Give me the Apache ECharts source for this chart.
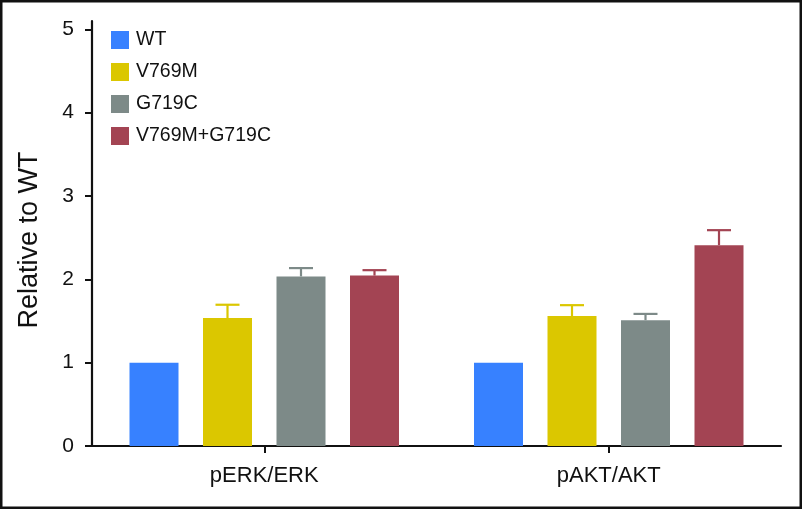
<!DOCTYPE html>
<html>
<head>
<meta charset="utf-8">
<script src="https://cdn.jsdelivr.net/npm/echarts@6/dist/echarts.min.js"></script>
<style>
  html, body { margin: 0; padding: 0; background: #fff; }
  #chart { width: 802px; height: 509px; }
</style>
</head>
<body>
<div id="chart"></div>
<script>
// ---- data ----
var categories = ['pERK/ERK', 'pAKT/AKT'];
var seriesNames = ['WT', 'V769M', 'G719C', 'V769M+G719C'];
var wtValues = [1.0, 1.0];
var wtErrors = [0, 0];
var v769mValues = [1.535, 1.56];
var v769mErrors = [0.16, 0.13];
var g719cValues = [2.035, 1.51];
var g719cErrors = [0.10, 0.075];
var comboValues = [2.045, 2.41];
var comboErrors = [0.065, 0.18];
var yTickValues = [0, 1, 2, 3, 4, 5];

var colors = ['#3781FF', '#DBC700', '#7D8A88', '#A34453'];
var FONT = 'Liberation Sans, Arial, Helvetica, sans-serif';
var BAR_W = 49;
var BAR_GAP_PX = 24.5;

var allValues = [wtValues, v769mValues, g719cValues, comboValues];
var allErrors = [wtErrors, v769mErrors, g719cErrors, comboErrors];

var series = [];
seriesNames.forEach(function (name, i) {
  series.push({
    name: name,
    type: 'bar',
    data: allValues[i],
    barWidth: BAR_W,
    barGap: '50%',
    itemStyle: { color: colors[i] },
    silent: true
  });
});
seriesNames.forEach(function (name, i) {
  var data = allValues[i].map(function (v, k) { return [k, v, allErrors[i][k]]; });
  series.push({
    name: name,
    type: 'custom',
    data: data,
    z: 1,
    silent: true,
    renderItem: function (params, api) {
      var err = api.value(2);
      if (!err) return null;
      var cat = api.value(0);
      var val = api.value(1);
      var offset = (i - 1.5) * (BAR_W + BAR_GAP_PX);
      var pTop = api.coord([cat, val + err]);
      var pBase = api.coord([cat, val]);
      var x = pTop[0] + offset;
      var half = 12;
      var style = { stroke: colors[i], lineWidth: 2.2, fill: null };
      return {
        type: 'group',
        children: [
          { type: 'line', shape: { x1: x, y1: pBase[1], x2: x, y2: pTop[1] }, style: style },
          { type: 'line', shape: { x1: x - half, y1: pTop[1], x2: x + half, y2: pTop[1] }, style: style }
        ]
      };
    }
  });
});

var chart = echarts.init(document.getElementById('chart'), null, { renderer: 'canvas' });
chart.setOption({
  animation: false,
  backgroundColor: '#fff',
  textStyle: { fontFamily: FONT },
  grid: { left: 92, right: 21, top: 21, bottom: 63, containLabel: false },
  legend: {
    data: seriesNames,
    orient: 'vertical',
    left: 111,
    top: 30,
    padding: 0,
    icon: 'rect',
    itemWidth: 18,
    itemHeight: 18,
    itemGap: 12,
    selectedMode: false,
    textStyle: { fontSize: 19.5, color: '#111', fontFamily: FONT, padding: [0, 0, 0, 2] }
  },
  xAxis: {
    type: 'category',
    data: categories,
    axisLine: { lineStyle: { color: '#111', width: 2.2 } },
    axisTick: { show: true, alignWithLabel: true, length: 7, lineStyle: { color: '#111', width: 2 } },
    axisLabel: { fontSize: 22, color: '#111', margin: 19, fontFamily: FONT },
    splitLine: { show: false }
  },
  yAxis: {
    type: 'value',
    min: 0,
    max: 5.1,
    name: 'Relative to WT',
    nameLocation: 'middle',
    nameGap: 49,
    nameRotate: 90,
    nameTextStyle: { fontSize: 27, color: '#111', fontFamily: FONT, padding: [0, 13, 0, 0] },
    axisLine: { show: true, lineStyle: { color: '#111', width: 2.2 } },
    axisTick: { show: true, length: 7, lineStyle: { color: '#111', width: 2 }, customValues: yTickValues },
    axisLabel: { fontSize: 21, color: '#111', margin: 18, fontFamily: FONT, customValues: yTickValues },
    splitLine: { show: false }
  },
  graphic: [{
    type: 'rect',
    shape: { x: 1.25, y: 1.25, width: 799.5, height: 506.5 },
    style: { fill: null, stroke: '#111', lineWidth: 2.5 },
    silent: true,
    z: 100
  }],
  series: series
});
</script>
</body>
</html>
